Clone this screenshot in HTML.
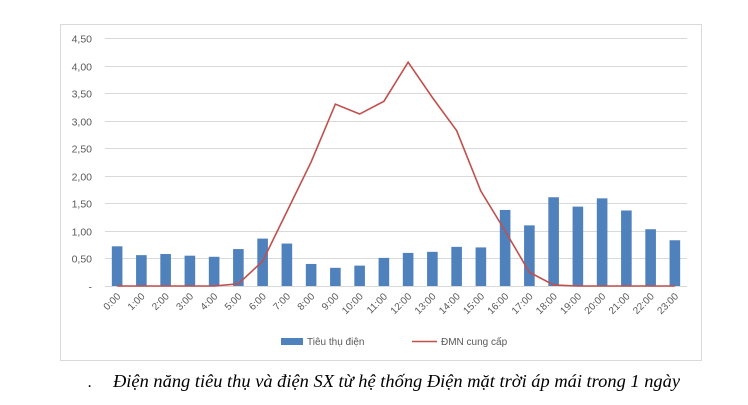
<!DOCTYPE html>
<html><head><meta charset="utf-8"><style>
body{margin:0;background:#fff;width:748px;height:400px;overflow:hidden}
</style></head><body>
<svg width="748" height="400" xmlns="http://www.w3.org/2000/svg" font-family="Liberation Sans, sans-serif">
<rect x="60.5" y="24.5" width="641" height="336" fill="#fff" stroke="#d9d9d9"/>
<g id="grid" stroke="#d9d9d9" stroke-width="1"></g>
<g id="yl" font-size="10.5" fill="#595959" text-anchor="end"></g>
<g id="bars" fill="#4f81bd"></g>
<polyline id="line" fill="none" stroke="#c0504d" stroke-width="1.6"/>
<g id="xl" font-size="10" fill="#595959" text-anchor="end"></g>
<rect x="281" y="338" width="22" height="7" fill="#4f81bd"/>
<text x="307" y="345" font-size="10" fill="#595959">Tiêu thụ điện</text>
<line x1="412" y1="341.5" x2="437" y2="341.5" stroke="#c0504d" stroke-width="1.6"/>
<text x="441" y="345" font-size="10" fill="#595959">ĐMN cung cấp</text>
<text x="88" y="387" font-size="16" font-family="Liberation Serif, serif" font-style="italic" fill="#000">.</text>
<text x="113" y="387" font-size="18.4" font-family="Liberation Serif, serif" font-style="italic" fill="#000" textLength="567" lengthAdjust="spacingAndGlyphs">Điện năng tiêu thụ và điện SX từ hệ thống Điện mặt trời áp mái trong 1 ngày</text>
</svg>
<script>
const ns="http://www.w3.org/2000/svg";
const y0=286,u=27.56/0.5,L=105,R=687,cw=(R-L)/24;
const g=document.getElementById('grid'),yl=document.getElementById('yl');
for(let i=0;i<=9;i++){const y=Math.round(y0-i*27.56)+0.5;
const l=document.createElementNS(ns,'line');l.setAttribute('x1',L);l.setAttribute('x2',R);l.setAttribute('y1',y);l.setAttribute('y2',y);g.appendChild(l);
const t=document.createElementNS(ns,'text');t.setAttribute('x',92);t.setAttribute('y',y+4);t.textContent=i?(i*0.5).toFixed(2).replace('.',','):'-';yl.appendChild(t);}
const b=[0.72,0.56,0.58,0.55,0.53,0.67,0.86,0.77,0.40,0.33,0.37,0.51,0.60,0.62,0.71,0.70,1.38,1.10,1.61,1.44,1.59,1.37,1.03,0.83];
const s=[0,0,0,0,0,0.04,0.45,1.35,2.25,3.30,3.12,3.35,4.06,3.42,2.82,1.72,1.0,0.25,0.02,0,0,0,0,0];
const bg=document.getElementById('bars'),xl=document.getElementById('xl');let pts=[];
b.forEach((v,i)=>{const cx=L+cw*(i+0.5);const r=document.createElementNS(ns,'rect');
r.setAttribute('x',cx-5.3);r.setAttribute('width',10.6);r.setAttribute('y',y0-v*u);r.setAttribute('height',v*u);bg.appendChild(r);
pts.push(cx+','+(y0-s[i]*u));
const t=document.createElementNS(ns,'text');t.setAttribute('transform',`translate(${cx+4},${y0+11}) rotate(-45)`);t.textContent=i+':00';xl.appendChild(t);});
document.getElementById('line').setAttribute('points',pts.join(' '));
</script>
</body></html>
